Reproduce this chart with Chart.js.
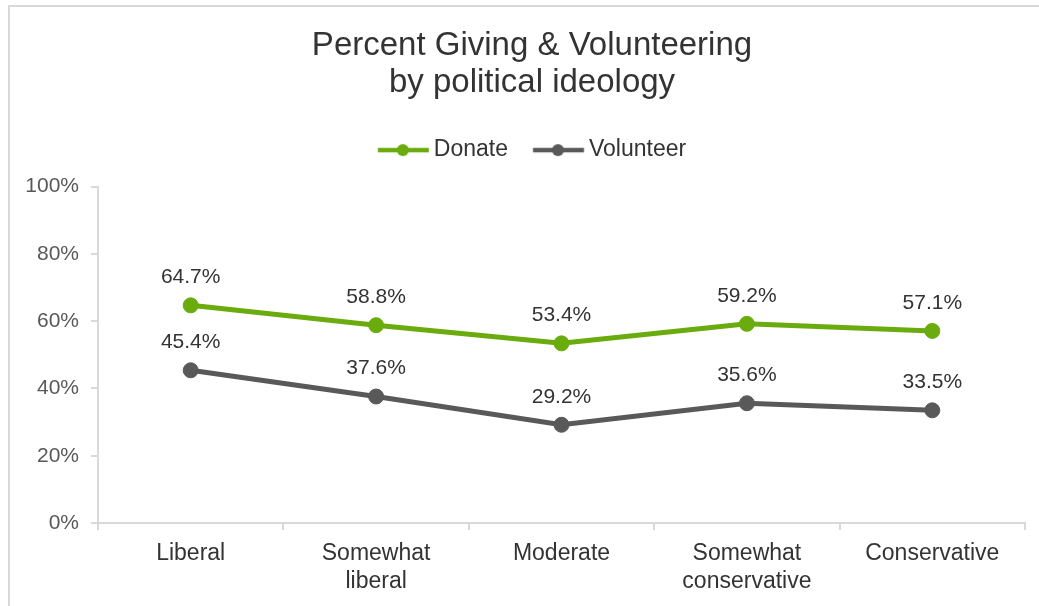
<!DOCTYPE html>
<html>
<head>
<meta charset="utf-8">
<title>Percent Giving & Volunteering by political ideology</title>
<script src="https://cdn.jsdelivr.net/npm/chart.js@4"></script>
<style>
  html, body { margin:0; padding:0; background:#fff; }
  #wrap { position:relative; width:1039px; height:606px; overflow:hidden; }
  #frame { position:absolute; left:8px; top:5px; width:1100px; height:700px;
           border-left:2px solid #d9d9d9; border-top:2px solid #d9d9d9; }
  #chart { position:absolute; left:0; top:0; }
</style>
</head>
<body>
<div id="wrap">
  <div id="frame"></div>
  <canvas id="chart" width="1039" height="606"></canvas>
</div>
<script>
// data
const categories = ['Liberal', ['Somewhat','liberal'], 'Moderate', ['Somewhat','conservative'], 'Conservative'];
const donate = [64.7, 58.8, 53.4, 59.2, 57.1];
const volunteer = [45.4, 37.6, 29.2, 35.6, 33.5];
const yTicks = [0, 20, 40, 60, 80, 100];

const GREEN = '#6aab0e';
const GREY = '#595959';
const FONT = "'Liberation Sans', Arial, sans-serif";

// legend symbol: line with a dot in the middle
function legendIcon(color){
  const c = document.createElement('canvas');
  c.width = 60; c.height = 16;
  const g = c.getContext('2d');
  g.strokeStyle = color;
  g.lineWidth = 4.5;
  g.beginPath(); g.moveTo(7.75, 8); g.lineTo(58.75, 8); g.stroke();
  g.fillStyle = color;
  g.beginPath(); g.arc(32.75, 8, 6, 0, Math.PI*2); g.fill();
  return c;
}

// value labels above each point
const valueLabels = {
  id: 'valueLabels',
  afterDatasetsDraw(chart){
    const ctx = chart.ctx;
    ctx.save();
    ctx.font = '21px ' + FONT;
    ctx.fillStyle = '#333333';
    ctx.textAlign = 'center';
    ctx.textBaseline = 'middle';
    chart.data.datasets.forEach((ds, i)=>{
      chart.getDatasetMeta(i).data.forEach((pt, j)=>{
        ctx.fillText(ds.data[j].toFixed(1) + '%', pt.x, pt.y - 28);
      });
    });
    ctx.restore();
  }
};

// a bit more room under the legend, and title/legend sit slightly right of centre
const legendGap = {
  id: 'legendGap',
  beforeInit(chart){
    const fit = chart.legend.fit;
    chart.legend.fit = function(){
      fit.bind(chart.legend)();
      this.height += 15;
    };
  },
  afterLayout(chart){
    chart.titleBlock.left += 7; chart.titleBlock.right += 7;
    chart.legend.left += 7; chart.legend.right += 7;
  }
};

new Chart(document.getElementById('chart'), {
  type: 'line',
  data: {
    labels: categories,
    datasets: [
      { label: 'Donate', data: donate, borderColor: GREEN, backgroundColor: GREEN,
        borderWidth: 5, pointRadius: 7.5, pointBorderWidth: 1, pointStyle: 'circle',
        pointBackgroundColor: GREEN, pointBorderColor: GREEN, tension: 0 },
      { label: 'Volunteer', data: volunteer, borderColor: GREY, backgroundColor: GREY,
        borderWidth: 5, pointRadius: 7.5, pointBorderWidth: 1, pointStyle: 'circle',
        pointBackgroundColor: GREY, pointBorderColor: GREY, tension: 0 }
    ]
  },
  options: {
    responsive: false,
    animation: false,
    layout: { padding: { left: 25, right: 14, top: 0, bottom: 0 } },
    plugins: {
      title: {
        display: true,
        text: ['Percent Giving & Volunteering', 'by political ideology'],
        color: '#333333',
        font: { family: FONT, size: 33, weight: 'normal', lineHeight: 1.13 },
        padding: { top: 27, bottom: 12 }
      },
      legend: {
        display: true,
        labels: {
          usePointStyle: true,
          pointStyleWidth: 44.5,
          boxHeight: 16,
          padding: 25,
          color: '#333333',
          font: { family: FONT, size: 23 },
          generateLabels(chart){
            return chart.data.datasets.map((ds, i)=>({
              text: ds.label,
              pointStyle: legendIcon(ds.borderColor),
              fillStyle: ds.borderColor,
              strokeStyle: ds.borderColor,
              lineWidth: 0,
              fontColor: '#333333',
              hidden: false,
              datasetIndex: i
            }));
          }
        }
      },
      tooltip: { enabled: false }
    },
    scales: {
      x: {
        offset: true,
        grid: { display: true, drawOnChartArea: false, offset: true, tickLength: 7, color: '#d9d9d9', lineWidth: 2 },
        border: { color: '#d9d9d9', width: 2 },
        ticks: { color: '#333333', padding: 10, maxRotation: 0, autoSkip: false,
                 font: { family: FONT, size: 23, lineHeight: 1.217 } }
      },
      y: {
        min: yTicks[0],
        max: yTicks[yTicks.length - 1],
        afterBuildTicks(scale){ scale.ticks = yTicks.map(v=>({ value: v })); },
        afterFit(scale){ scale.width = 73; },
        grid: { display: true, drawOnChartArea: false, tickLength: 7, color: '#d9d9d9', lineWidth: 2 },
        border: { color: '#d9d9d9', width: 2 },
        ticks: { color: GREY, padding: 12, font: { family: FONT, size: 21 },
                 callback: v => v + '%' }
      }
    }
  },
  plugins: [valueLabels, legendGap]
});
</script>
</body>
</html>
